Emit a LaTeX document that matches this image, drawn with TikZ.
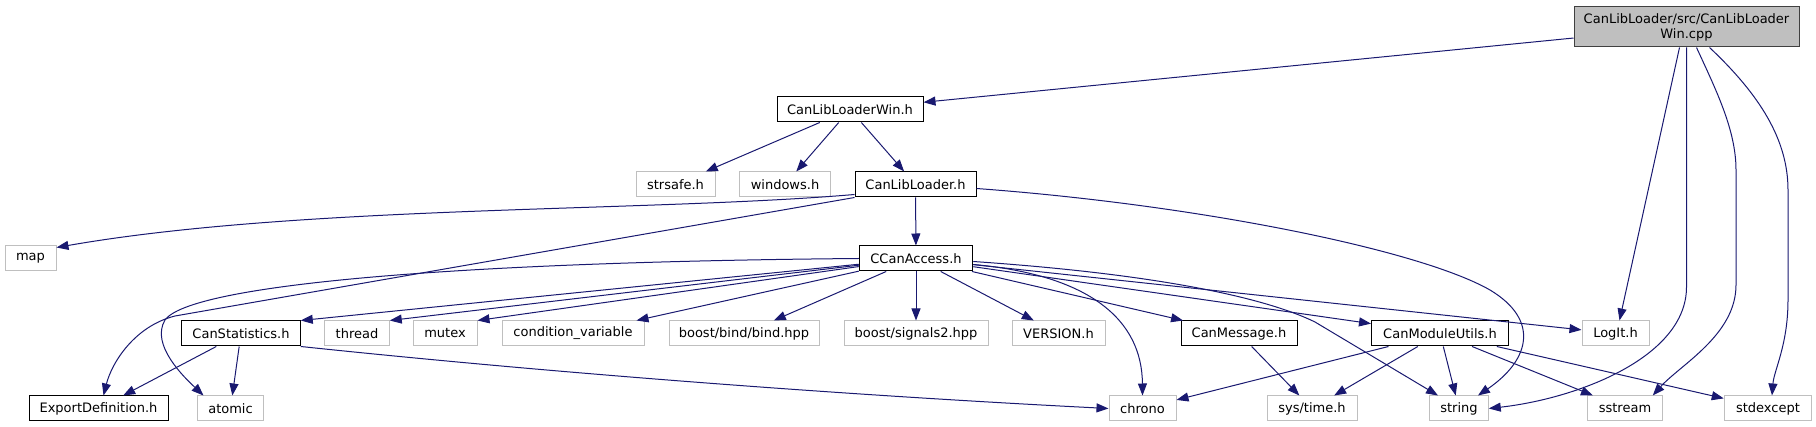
\documentclass[tikz,border=0pt]{standalone}
\usepackage{fontspec}
\setmainfont{DejaVu Sans}
\usepackage{tikz}
\usetikzlibrary{arrows.meta}
\definecolor{dxedge}{HTML}{191970}
\definecolor{dxgray}{HTML}{BFBFBF}
\definecolor{dxdark}{HTML}{404040}

\begin{document}
\begin{tikzpicture}[
  x=1pt, y=-1pt,
  >={Triangle[length=12pt, width=9pt]},
  hdr/.style={draw=black, line width=1pt, fill=white, minimum height=25pt, inner sep=0pt, font=\fontsize{13}{15}\selectfont},
  syshdr/.style={hdr, draw=dxgray},
  srcfile/.style={hdr, draw=dxdark, fill=dxgray, minimum height=40pt, align=center},
  dep/.style={->, dxedge, line width=1pt}
]
\useasboundingbox (0,0) rectangle (1816,427);

% Nodes
\node[srcfile, minimum width=225pt] (cpp) at (1686.5,27) {CanLibLoader/src/CanLibLoader\\Win.cpp};
\node[hdr, minimum width=146pt] (win) at (850,109.5) {CanLibLoaderWin.h};
\node[syshdr, minimum width=79pt] (strsafe) at (675.5,184.5) {strsafe.h};
\node[syshdr, minimum width=91pt] (windows) at (785,184.5) {windows.h};
\node[hdr, minimum width=121pt] (loader) at (915.5,184.5) {CanLibLoader.h};
\node[syshdr, minimum width=51pt] (map) at (30.5,258.5) {map};
\node[hdr, minimum width=113.5pt] (ccan) at (916,258.5) {CCanAccess.h};
\node[hdr, minimum width=118.5pt] (stats) at (241,333.5) {CanStatistics.h};
\node[syshdr, minimum width=64.5pt] (thread) at (357,333.5) {thread};
\node[syshdr, minimum width=64pt] (mutex) at (445,333.5) {mutex};
\node[syshdr, minimum width=142pt] (condvar) at (573,333.5) {condition\_variable};
\node[syshdr, minimum width=150pt] (bind) at (744,333.5) {boost/bind/bind.hpp};
\node[syshdr, minimum width=144pt] (signals) at (916,333.5) {boost/signals2.hpp};
\node[syshdr, minimum width=93pt] (version) at (1058.5,333.5) {VERSION.h};
\node[hdr, minimum width=116pt] (canmsg) at (1239,333.5) {CanMessage.h};
\node[hdr, minimum width=137pt] (canmod) at (1440,333.5) {CanModuleUtils.h};
\node[syshdr, minimum width=67pt] (logit) at (1615.5,333.5) {LogIt.h};
\node[hdr, minimum width=139pt] (exportdef) at (98.5,408.5) {ExportDefinition.h};
\node[syshdr, minimum width=66pt] (atomic) at (230.5,408.5) {atomic};
\node[syshdr, minimum width=67pt] (chrono) at (1142.5,408.5) {chrono};
\node[syshdr, minimum width=90pt] (systime) at (1312,408.5) {sys/time.h};
\node[syshdr, minimum width=58.5pt] (string) at (1459,408.5) {string};
\node[syshdr, minimum width=74.5pt] (sstream) at (1625,408.5) {sstream};
\node[syshdr, minimum width=87.5pt] (stdexcept) at (1768,408.5) {stdexcept};

% Edges from the source file
\draw[dep] (cpp) -- (win);
\draw[dep] ([xshift=-7pt]cpp.south) -- ([xshift=4pt]logit.north);
\draw[dep] (cpp.south) -- (1686.5,287) .. controls (1686.5,357) and (1578,398.5) .. (string.east);
\draw[dep] ([xshift=10pt]cpp.south) .. controls (1716,90) and (1736,130) .. (1736,170) -- (1736,285) .. controls (1736,335) and (1680,365) .. ([xshift=-10pt]sstream.north east);
\draw[dep] ([xshift=23pt]cpp.south) .. controls (1760,95) and (1788,140) .. (1788,190) -- (1788,300) .. controls (1788,345) and (1774,370) .. ([xshift=4pt]stdexcept.north);

% Edges of the headers
\draw[dep] (win) -- (strsafe);
\draw[dep] (win) -- (windows);
\draw[dep] (win) -- (loader);
\draw[dep] ([yshift=3pt]loader.south west) .. controls (650,212) and (300,205) .. ([yshift=-2pt]map.north east);
\draw[dep] (loader.south west) -- (175,316) .. controls (135,326) and (112,362) .. ([xshift=5pt]exportdef.north);
\draw[dep] (loader) -- (ccan);
\draw[dep] ([yshift=-4pt]loader.east) .. controls (1200,205) and (1420,250) .. (1490,290) .. controls (1540,320) and (1530,360) .. ([xshift=19pt]string.north);

\draw[dep] (ccan.west) .. controls (450,262) and (190,285) .. (165,320) .. controls (150,345) and (185,378) .. ([xshift=-27pt]atomic.north);
\draw[dep] (ccan) -- (stats.north east);
\draw[dep] (ccan) -- (thread.north east);
\draw[dep] (ccan) -- (mutex.north east);
\draw[dep] (ccan) -- ([xshift=-8pt]condvar.north east);
\draw[dep] (ccan) -- (bind);
\draw[dep] (ccan) -- (signals);
\draw[dep] (ccan) -- (version);
\draw[dep] (ccan) -- (canmsg);
\draw[dep] (ccan) -- (canmod);
\draw[dep] (ccan) -- (logit);
\draw[dep] ([yshift=-6pt]ccan.east) .. controls (1090,275) and (1142,320) .. (chrono.north);
\draw[dep] ([yshift=-3pt]ccan.east) .. controls (1170,275) and (1270,300) .. (1315,322) -- ([xshift=-21pt]string.north);

\draw[dep] (stats) -- (exportdef);
\draw[dep] (stats) -- (atomic);
\draw[dep] (stats.south east) .. controls (600,378) and (900,398) .. (chrono.west);

\draw[dep] (canmsg) -- (systime);
\draw[dep] (canmod) -- (chrono);
\draw[dep] (canmod) -- (systime);
\draw[dep] (canmod) -- (string);
\draw[dep] (canmod) -- (sstream);
\draw[dep] (canmod) -- (stdexcept);

\end{tikzpicture}
\end{document}
